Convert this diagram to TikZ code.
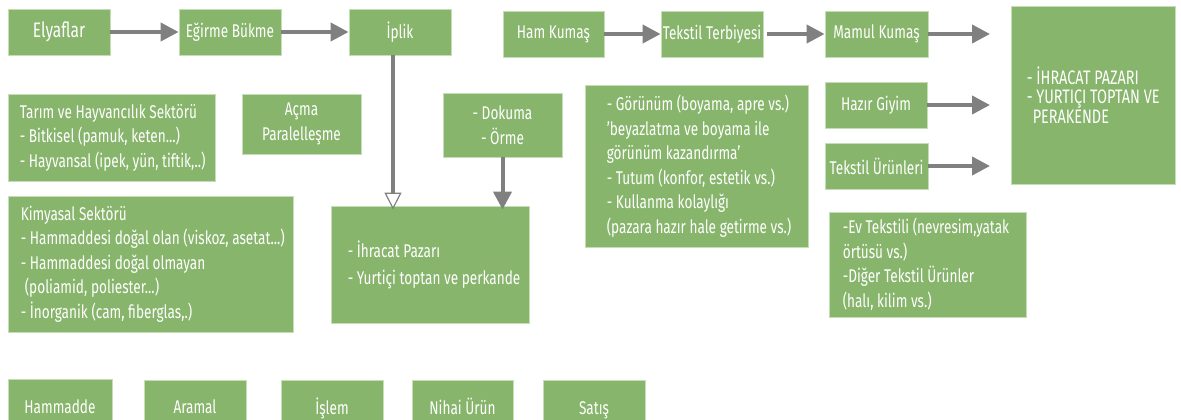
\documentclass[tikz,border=0pt]{standalone}
\usepackage{fontspec}
\setmainfont{Fira Sans}[FakeStretch=0.74]
\usetikzlibrary{arrows.meta}
\definecolor{gfill}{RGB}{135,181,108}
\definecolor{gline}{RGB}{197,222,181}
\definecolor{agray}{RGB}{128,128,128}
\tikzset{
  gbox/.style={fill=gfill, draw=gline, line width=0.8pt, text=white, inner sep=0pt,
    align=center, font={\fontsize{18.4}{25}\selectfont}},
  txt/.style={text=white, inner sep=0pt, align=left, anchor=west,
    font={\fontsize{18.4}{24.5}\selectfont}},
  legbox/.style={gbox, minimum height=41pt, text height=27pt, text depth=0pt},
  flow/.style={draw=agray, line width=4pt, -{Triangle[length=18pt,width=18pt]}},
  hollow/.style={draw=agray, line width=4pt,
    -{Triangle[length=17pt,width=17pt,open,fill=white,line width=1.2pt]}},
}
\begin{document}
\begin{tikzpicture}[x=1pt,y=-1pt]
\useasboundingbox (0,0) rectangle (1181,420);
% top row
\node[gbox, minimum width=102pt, minimum height=46pt, font={\fontsize{21}{22}\selectfont}] (elyaf) at (59,32) {Elyaflar};
\node[gbox, minimum width=102pt, minimum height=46pt] (egirme) at (230,32) {Eğirme Bükme};
\node[gbox, minimum width=102pt, minimum height=46pt] (iplik) at (400,32) {İplik};
\node[gbox, minimum width=101pt, minimum height=46pt] (ham) at (553.5,34) {Ham Kumaş};
\node[gbox, minimum width=102pt, minimum height=46pt] (terb) at (712,34) {Tekstil Terbiyesi};
\node[gbox, minimum width=103pt, minimum height=46pt] (mamul) at (876.5,34) {Mamul Kumaş};
\node[gbox, minimum width=164pt, minimum height=178pt] (big) at (1093,95) {};
\node[txt, font={\fontsize{19.5}{19.5}\selectfont}] (bigt) at ([xshift=16pt]big.west) {- İHRACAT PAZARI\\- YURTIÇI TOPTAN VE\\\hspace*{6pt}PERAKENDE};
% second level
\node[gbox, minimum width=207pt, minimum height=87pt] (tarim) at (111.5,137.5) {};
\node[txt] (tarimt) at ([xshift=12pt]tarim.west) {Tarım ve Hayvancılık Sektörü\\- Bitkisel (pamuk, keten...)\\- Hayvansal (ipek, yün, tiftik,..)};
\node[gbox, minimum width=119pt, minimum height=60pt] (acma) at (301.5,124) {Açma\\Paralelleşme};
\node[gbox, minimum width=285pt, minimum height=136pt] (kimya) at (150.5,264) {};
\node[txt] (kimyat) at ([xshift=13pt]kimya.west) {Kimyasal Sektörü\\- Hammaddesi doğal olan (viskoz, asetat...)\\- Hammaddesi doğal olmayan\\\hspace*{4pt}(poliamid, poliester...)\\- İnorganik (cam, fiberglas,.)};
\node[gbox, minimum width=119pt, minimum height=64pt] (dokuma) at (502.5,125) {- Dokuma\\- Örme};
\node[gbox, minimum width=198pt, minimum height=117pt] (ihr) at (430,264.5) {};
\node[txt] (ihrt) at ([xshift=17pt]ihr.west) {- İhracat Pazarı\\[2.5pt]- Yurtiçi toptan ve perkande};
\node[gbox, minimum width=223pt, minimum height=162pt] (gor) at (696.5,166) {};
\node[txt] (gort) at ([xshift=22pt]gor.west) {- Görünüm (boyama, apre vs.)\\’beyazlatma ve boyama ile\\görünüm kazandırma’\\- Tutum (konfor, estetik vs.)\\- Kullanma kolaylığı\\(pazara hazır hale getirme vs.)};
\node[gbox, minimum width=102pt, minimum height=46pt] (hazir) at (876,105) {Hazır Giyim};
\node[gbox, minimum width=103pt, minimum height=46pt] (tekur) at (876.5,166) {Tekstil Ürünleri};
\node[gbox, minimum width=197pt, minimum height=105pt] (ev) at (927.5,264.5) {};
\node[txt] (evt) at ([xshift=14pt]ev.west) {-Ev Tekstili (nevresim,yatak\\örtüsü vs.)\\-Diğer Tekstil Ürünler\\(halı, kilim vs.)};
% legend row
\node[legbox, minimum width=104pt] (hamm) at (60,399.5) {Hammadde};
\node[legbox, minimum width=102pt, text height=25pt] (aramal) at (195,400.5) {Aramal};
\node[legbox, minimum width=102pt] (islem) at (332,400.5) {İşlem};
\node[legbox, minimum width=101pt] (nihai) at (462.5,400.5) {Nihai Ürün};
\node[legbox, minimum width=102pt] (satis) at (594,400.5) {Satış};
% free arrow ends
\coordinate (e1) at (990,34);
\coordinate (e2) at (990,105);
\coordinate (e3) at (990,166);
% connectors
\draw[flow] (elyaf) -- (egirme);
\draw[flow] (egirme) -- (iplik);
\draw[flow] (ham) -- (terb);
\draw[flow, shorten <=4pt] (terb) -- (mamul);
\draw[flow] (mamul) -- (e1);
\draw[flow] (hazir) -- (e2);
\draw[flow] (tekur) -- (e3);
\draw[hollow, shorten >=-4pt] ([xshift=-7pt]iplik.south) -- ([xshift=-7pt]iplik.south |- ihr.north);
\draw[flow, shorten >=-4pt] (dokuma.south) -- (dokuma.south |- ihr.north);
\end{tikzpicture}
\end{document}
